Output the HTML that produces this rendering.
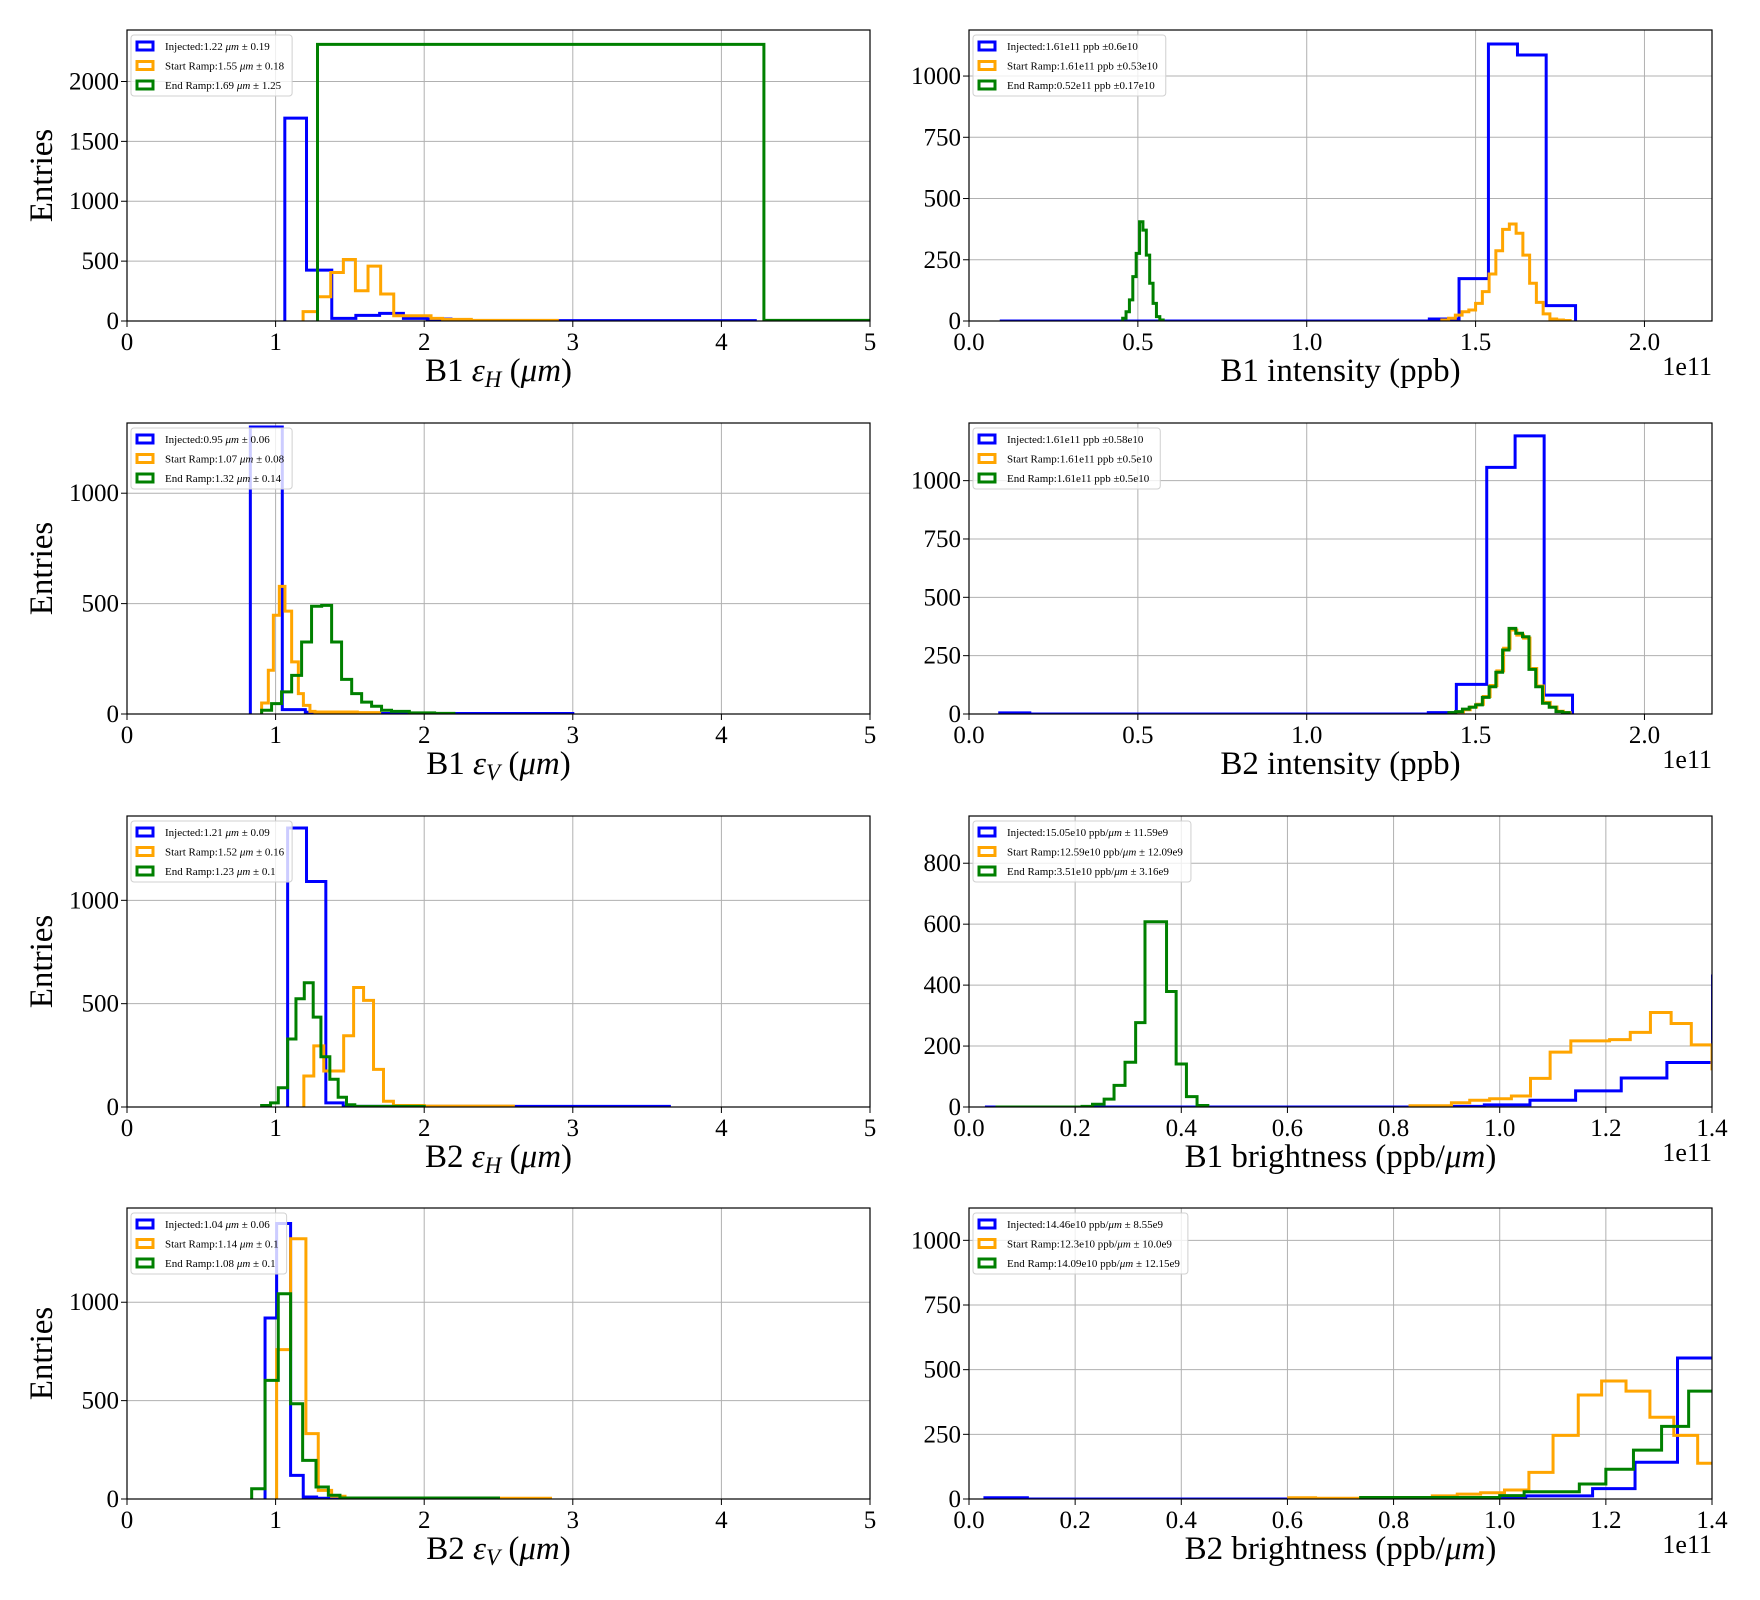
<!DOCTYPE html>
<html>
<head>
<meta charset="utf-8">
<style>
html,body{margin:0;padding:0;background:#fff;}
svg{display:block;}
text{font-family:"Liberation Serif","DejaVu Serif",serif;fill:#000;}
</style>
</head>
<body>
<svg id="fig" width="1760" height="1600" viewBox="0 0 1760 1600" xmlns="http://www.w3.org/2000/svg" font-family="Liberation Serif, DejaVu Serif, serif"></svg>
<script>
// ===== Panel 1: B1 emittance H =====
const p1BlueEdges = [1.062,1.208,1.378,1.54,1.70,1.86,2.02,2.18,4.228];
const p1BlueCounts = [1694,425,22,47,64,22,17,3];
const p1OrangeEdges = [1.185,1.282,1.371,1.456,1.537,1.622,1.707,1.795,1.88,1.965,2.046,2.124,2.317,2.896];
const p1OrangeCounts = [78,203,405,514,253,458,225,44,44,44,22,14,5];
const p1GreenEdges = [1.282,4.286,5.2];
const p1GreenCounts = [2310,5];
// ===== Panel 2: B1 intensity =====
const p2BlueEdges = [0.091,1.363,1.451,1.538,1.624,1.709,1.796];
const p2BlueCounts = [0,8,173,1131,1086,63];
const p2OrangeEdges = [1.40,1.42,1.44,1.46,1.48,1.50,1.52,1.54,1.56,1.58,1.60,1.62,1.64,1.66,1.68,1.70,1.72,1.74,1.76,1.78];
const p2OrangeCounts = [4,11,24,38,45,72,120,192,287,374,396,358,269,154,76,29,8,4,2];
const p2GreenEdges = [0.455,0.465,0.475,0.485,0.495,0.505,0.515,0.525,0.535,0.545,0.555,0.565,0.575];
const p2GreenCounts = [11,38,86,181,276,405,371,269,154,72,18,4];
// ===== Panel 3: B1 emittance V =====
const p3BlueEdges = [0.83,1.045,1.2,1.35,3.0];
const p3BlueCounts = [1300,20,8,2];
const p3OrangeEdges = [0.906,0.951,0.985,1.025,1.063,1.108,1.153,1.187,1.231,1.265,1.40,1.55,1.70];
const p3OrangeCounts = [50,198,447,578,466,236,92,39,12,9,9,6];
const p3GreenEdges = [0.906,0.973,1.04,1.108,1.175,1.242,1.31,1.377,1.444,1.512,1.579,1.646,1.713,1.78,1.90,2.07,2.2];
const p3GreenCounts = [17,47,100,175,326,488,492,326,157,92,54,35,17,12,5,3];
// ===== Panel 4: B2 intensity =====
const p4BlueEdges = [0.091,0.18,1.36,1.443,1.533,1.617,1.703,1.787];
const p4BlueCounts = [5,0,6,127,1057,1192,81];
const p4OrangeEdges = [1.424,1.444,1.464,1.484,1.503,1.523,1.543,1.563,1.583,1.602,1.622,1.642,1.661,1.681,1.701,1.721,1.741,1.760,1.780];
const p4OrangeCounts = [5,9,18,30,42,75,122,185,282,360,338,325,195,120,50,30,12,6];
const p4GreenEdges = [1.421,1.441,1.461,1.481,1.500,1.520,1.540,1.560,1.580,1.599,1.619,1.639,1.658,1.678,1.698,1.718,1.738,1.757,1.777];
const p4GreenCounts = [6,10,21,29,39,71,117,179,274,367,346,331,191,117,46,29,10,6];
// ===== Panel 5: B2 emittance H =====
const p5BlueEdges = [1.081,1.208,1.338,1.455,3.65];
const p5BlueCounts = [1350,1091,20,3];
const p5OrangeEdges = [1.19,1.257,1.324,1.391,1.458,1.525,1.592,1.659,1.726,1.793,2.0,2.6];
const p5OrangeCounts = [150,296,174,174,345,578,516,182,28,7,4];
const p5GreenEdges = [0.906,0.966,1.018,1.081,1.137,1.193,1.253,1.305,1.365,1.421,1.477,1.533,2.0];
const p5GreenCounts = [7,20,93,329,524,601,435,243,134,47,11,3];
// ===== Panel 6: B1 brightness =====
const p6BlueEdges = [0.03,0.885,0.971,1.057,1.143,1.229,1.315,1.401,1.487];
const p6BlueCounts = [0,2,7,22,53,95,146,430];
const p6OrangeEdges = [0.831,0.909,0.9435,0.981,1.022,1.058,1.095,1.134,1.207,1.246,1.284,1.323,1.361,1.40,1.44];
const p6OrangeCounts = [4,14,22,27,36,94,180,217,221,245,310,274,204,125];
const p6GreenEdges = [0.05,0.213,0.2327,0.2546,0.2733,0.294,0.314,0.3316,0.3722,0.3903,0.4097,0.4297,0.45];
const p6GreenCounts = [0,2,9,26,71,147,277,608,379,141,34,5];
// ===== Panel 7: B2 emittance V =====
const p7BlueEdges = [0.929,1.007,1.101,1.186,1.276,1.366,2.0];
const p7BlueCounts = [920,1400,120,10,4,2];
const p7OrangeEdges = [1.007,1.101,1.204,1.287,1.377,1.467,2.0,2.85];
const p7OrangeCounts = [759,1323,332,44,14,5,4];
const p7GreenEdges = [0.839,0.929,1.018,1.101,1.182,1.272,1.355,1.433,2.5];
const p7GreenCounts = [52,603,1043,484,196,61,19,5];
// ===== Panel 8: B2 brightness =====
const p8BlueEdges = [0.03,0.11,1.0,1.049,1.175,1.255,1.335,1.415];
const p8BlueCounts = [5,0,2,12,40,142,545];
const p8OrangeEdges = [0.6024,0.653,0.738,0.873,0.92,0.964,1.009,1.055,1.1005,1.148,1.192,1.238,1.283,1.328,1.373,1.42];
const p8OrangeCounts = [5,3,6,12,19,24,35,103,246,402,456,417,316,246,138];
const p8GreenEdges = [0.738,1.0,1.046,1.15,1.2,1.252,1.305,1.356,1.42];
const p8GreenCounts = [6,13,28,58,115,189,281,417];

// ===== Axis ticks =====
const emitXTicks = [0,1,2,3,4,5];
const emitXLabels = ["0","1","2","3","4","5"];
const intXTicks = [0,0.5,1.0,1.5,2.0];
const intXLabels = ["0.0","0.5","1.0","1.5","2.0"];
const brXTicks = [0,0.2,0.4,0.6,0.8,1.0,1.2,1.4];
const brXLabels = ["0.0","0.2","0.4","0.6","0.8","1.0","1.2","1.4"];
const p1YTicks = [0,500,1000,1500,2000];
const p250YTicks = [0,250,500,750,1000];
const p500YTicks = [0,500,1000];
const p6YTicks = [0,200,400,600,800];

// ===== Legend labels =====
const p1Legend = ["Injected:1.22 <i>μm</i> ± 0.19","Start Ramp:1.55 <i>μm</i> ± 0.18","End Ramp:1.69 <i>μm</i> ± 1.25"];
const p2Legend = ["Injected:1.61e11 ppb ±0.6e10","Start Ramp:1.61e11 ppb ±0.53e10","End Ramp:0.52e11 ppb ±0.17e10"];
const p3Legend = ["Injected:0.95 <i>μm</i> ± 0.06","Start Ramp:1.07 <i>μm</i> ± 0.08","End Ramp:1.32 <i>μm</i> ± 0.14"];
const p4Legend = ["Injected:1.61e11 ppb ±0.58e10","Start Ramp:1.61e11 ppb ±0.5e10","End Ramp:1.61e11 ppb ±0.5e10"];
const p5Legend = ["Injected:1.21 <i>μm</i> ± 0.09","Start Ramp:1.52 <i>μm</i> ± 0.16","End Ramp:1.23 <i>μm</i> ± 0.1"];
const p6Legend = ["Injected:15.05e10 ppb/<i>μm</i> ± 11.59e9","Start Ramp:12.59e10 ppb/<i>μm</i> ± 12.09e9","End Ramp:3.51e10 ppb/<i>μm</i> ± 3.16e9"];
const p7Legend = ["Injected:1.04 <i>μm</i> ± 0.06","Start Ramp:1.14 <i>μm</i> ± 0.1","End Ramp:1.08 <i>μm</i> ± 0.1"];
const p8Legend = ["Injected:14.46e10 ppb/<i>μm</i> ± 8.55e9","Start Ramp:12.3e10 ppb/<i>μm</i> ± 10.0e9","End Ramp:14.09e10 ppb/<i>μm</i> ± 12.15e9"];

const NS = "http://www.w3.org/2000/svg";
const svg = document.getElementById('fig');
const COLORS = ["#0000ff","#ffa500","#008000"];
const SERIES_NAMES = ["injected","start-ramp","end-ramp"];
const FF = '"Liberation Serif", "DejaVu Serif", serif';

function mk(tag, parent){ const e=document.createElementNS(NS,tag); parent.appendChild(e); if(tag==='text') e.setAttribute('font-family', FF); return e; }

function addRich(textEl, str){
  const parts = str.split(/(<i>.*?<\/i>)/);
  parts.forEach(p=>{
    if(!p) return;
    const t = mk('tspan', textEl);
    if(p.startsWith('<i>')){ t.textContent = p.slice(3,-4); t.setAttribute('font-style','italic'); }
    else t.textContent = p;
  });
}

const panels = [
 {id:1,col:0,row:0,xmax:5,ymax:2430,xt:emitXTicks,xl:emitXLabels,yt:p1YTicks,series:[[p1BlueEdges,p1BlueCounts],[p1OrangeEdges,p1OrangeCounts],[p1GreenEdges,p1GreenCounts]],legend:p1Legend,label:["B1 ","<i>ε</i>","H"," (","<i>μm</i>",")"],sci:false,ylab:true},
 {id:2,col:1,row:0,xmax:2.2,ymax:1188,xt:intXTicks,xl:intXLabels,yt:p250YTicks,series:[[p2BlueEdges,p2BlueCounts],[p2OrangeEdges,p2OrangeCounts],[p2GreenEdges,p2GreenCounts]],legend:p2Legend,label:["B1 intensity (ppb)"],sci:true,ylab:false},
 {id:3,col:0,row:1,xmax:5,ymax:1318,xt:emitXTicks,xl:emitXLabels,yt:p500YTicks,series:[[p3BlueEdges,p3BlueCounts],[p3OrangeEdges,p3OrangeCounts],[p3GreenEdges,p3GreenCounts]],legend:p3Legend,label:["B1 ","<i>ε</i>","V"," (","<i>μm</i>",")"],sci:false,ylab:true},
 {id:4,col:1,row:1,xmax:2.2,ymax:1247,xt:intXTicks,xl:intXLabels,yt:p250YTicks,series:[[p4BlueEdges,p4BlueCounts],[p4OrangeEdges,p4OrangeCounts],[p4GreenEdges,p4GreenCounts]],legend:p4Legend,label:["B2 intensity (ppb)"],sci:true,ylab:false},
 {id:5,col:0,row:2,xmax:5,ymax:1408,xt:emitXTicks,xl:emitXLabels,yt:p500YTicks,series:[[p5BlueEdges,p5BlueCounts],[p5OrangeEdges,p5OrangeCounts],[p5GreenEdges,p5GreenCounts]],legend:p5Legend,label:["B2 ","<i>ε</i>","H"," (","<i>μm</i>",")"],sci:false,ylab:true},
 {id:6,col:1,row:2,xmax:1.4,ymax:955,xt:brXTicks,xl:brXLabels,yt:p6YTicks,series:[[p6BlueEdges,p6BlueCounts],[p6OrangeEdges,p6OrangeCounts],[p6GreenEdges,p6GreenCounts]],legend:p6Legend,label:["B1 brightness (ppb/","<i>μm</i>",")"],sci:true,ylab:false},
 {id:7,col:0,row:3,xmax:5,ymax:1479,xt:emitXTicks,xl:emitXLabels,yt:p500YTicks,series:[[p7BlueEdges,p7BlueCounts],[p7OrangeEdges,p7OrangeCounts],[p7GreenEdges,p7GreenCounts]],legend:p7Legend,label:["B2 ","<i>ε</i>","V"," (","<i>μm</i>",")"],sci:false,ylab:true},
 {id:8,col:1,row:3,xmax:1.4,ymax:1125,xt:brXTicks,xl:brXLabels,yt:p250YTicks,series:[[p8BlueEdges,p8BlueCounts],[p8OrangeEdges,p8OrangeCounts],[p8GreenEdges,p8GreenCounts]],legend:p8Legend,label:["B2 brightness (ppb/","<i>μm</i>",")"],sci:true,ylab:false}
];

const COLX=[127,969], ROWY=[30,423,816,1208], W=743, H=291;

panels.forEach(p=>{
  const x0=COLX[p.col], y0=ROWY[p.row];
  const sx = v => x0 + v/p.xmax*W;
  const sy = v => y0 + H - v/p.ymax*H;
  const g = mk('g', svg);
  
  

  const cp = mk('clipPath', g); cp.setAttribute('id','clip'+p.id);
  const cr = mk('rect', cp); cr.setAttribute('x',x0); cr.setAttribute('y',y0); cr.setAttribute('width',W); cr.setAttribute('height',H);

  const grid = mk('g', g);
  
  
  p.xt.forEach(v=>{ const l=mk('line',grid); l.setAttribute('x1',sx(v)); l.setAttribute('x2',sx(v)); l.setAttribute('y1',y0); l.setAttribute('y2',y0+H); l.setAttribute('stroke','#b0b0b0'); l.setAttribute('stroke-width','1'); });
  p.yt.forEach(v=>{ const l=mk('line',grid); l.setAttribute('x1',x0); l.setAttribute('x2',x0+W); l.setAttribute('y1',sy(v)); l.setAttribute('y2',sy(v)); l.setAttribute('stroke','#b0b0b0'); l.setAttribute('stroke-width','1'); });

  const hg = mk('g', g); hg.setAttribute('clip-path','url(#clip'+p.id+')');
  p.series.forEach((s,i)=>{
    const edges=s[0], counts=s[1];
    let d = 'M'+sx(edges[0])+','+sy(0);
    for(let k=0;k<counts.length;k++){
      d += ' L'+sx(edges[k])+','+sy(counts[k])+' L'+sx(edges[k+1])+','+sy(counts[k]);
    }
    d += ' L'+sx(edges[counts.length])+','+sy(0);
    const path = mk('path', hg);
    path.setAttribute('d', d);
    path.setAttribute('fill','none');
    path.setAttribute('stroke',COLORS[i]);
    path.setAttribute('stroke-width','3');
    
    
  });

  const fr = mk('rect', g); fr.setAttribute('x',x0); fr.setAttribute('y',y0); fr.setAttribute('width',W); fr.setAttribute('height',H);
  fr.setAttribute('fill','none'); fr.setAttribute('stroke','#000'); fr.setAttribute('stroke-width','1.2');
  
  

  p.xt.forEach((v,i)=>{
    const l=mk('line',g); l.setAttribute('x1',sx(v)); l.setAttribute('x2',sx(v)); l.setAttribute('y1',y0+H); l.setAttribute('y2',y0+H+6); l.setAttribute('stroke','#000');
    const t=mk('text',g); t.setAttribute('x',sx(v)); t.setAttribute('y',y0+H+29); t.setAttribute('text-anchor','middle'); t.setAttribute('font-size','25');
    t.textContent=p.xl[i];
    
    
  });
  p.yt.forEach(v=>{
    const l=mk('line',g); l.setAttribute('x1',x0-6); l.setAttribute('x2',x0); l.setAttribute('y1',sy(v)); l.setAttribute('y2',sy(v)); l.setAttribute('stroke','#000');
    const t=mk('text',g); t.setAttribute('x',x0-8); t.setAttribute('y',sy(v)+8); t.setAttribute('text-anchor','end'); t.setAttribute('font-size','25');
    t.textContent=String(v);
    
    
  });

  const xl = mk('text', g);
  xl.setAttribute('x', x0+W/2); xl.setAttribute('y', y0+H+60); xl.setAttribute('text-anchor','middle'); xl.setAttribute('font-size','33');
  
  
  p.label.forEach((seg,idx)=>{
    const t = mk('tspan', xl);
    if(seg.startsWith('<i>')){ t.textContent=seg.slice(3,-4); t.setAttribute('font-style','italic'); }
    else if(seg==='H'||seg==='V'){ t.textContent=seg; t.setAttribute('font-style','italic'); t.setAttribute('font-size','23'); t.setAttribute('dy','6'); }
    else { t.textContent=seg; if(idx>0 && (p.label[idx-1]==='H'||p.label[idx-1]==='V')) t.setAttribute('dy','-6'); }
  });

  if(p.sci){
    const s = mk('text', g); s.setAttribute('x', x0+W); s.setAttribute('y', y0+H+54); s.setAttribute('text-anchor','end'); s.setAttribute('font-size','26');
    s.textContent='1e11';
    
    
  }
  if(p.ylab){
    const yl = mk('text', g); yl.setAttribute('font-size','33'); yl.setAttribute('text-anchor','middle');
    yl.setAttribute('transform','translate(52,'+(y0+H/2)+') rotate(-90)');
    yl.textContent='Entries';
    
    
  }

  const lg = mk('g', g);
  
  
  const lx=x0+4, ly=y0+5;
  const box = mk('rect', lg);
  box.setAttribute('x',lx); box.setAttribute('y',ly); box.setAttribute('height',61); box.setAttribute('rx',3);
  box.setAttribute('fill','#fff'); box.setAttribute('fill-opacity','0.8'); box.setAttribute('stroke','#d0d0d0'); box.setAttribute('stroke-width','1');
  let maxw=0;
  p.legend.forEach((lab,i)=>{
    const cy = ly+11+i*19.5;
    const r = mk('rect', lg);
    r.setAttribute('x',lx+6); r.setAttribute('y',cy-4); r.setAttribute('width',16); r.setAttribute('height',8);
    r.setAttribute('fill','none'); r.setAttribute('stroke',COLORS[i]); r.setAttribute('stroke-width','3');
    
    
    const t = mk('text', lg);
    t.setAttribute('x',lx+34); t.setAttribute('y',cy+4); t.setAttribute('font-size','11');
    addRich(t, lab);
    
    
    maxw = Math.max(maxw, t.getComputedTextLength());
  });
  box.setAttribute('width', 34+maxw+8);
});
</script>
</body>
</html>
